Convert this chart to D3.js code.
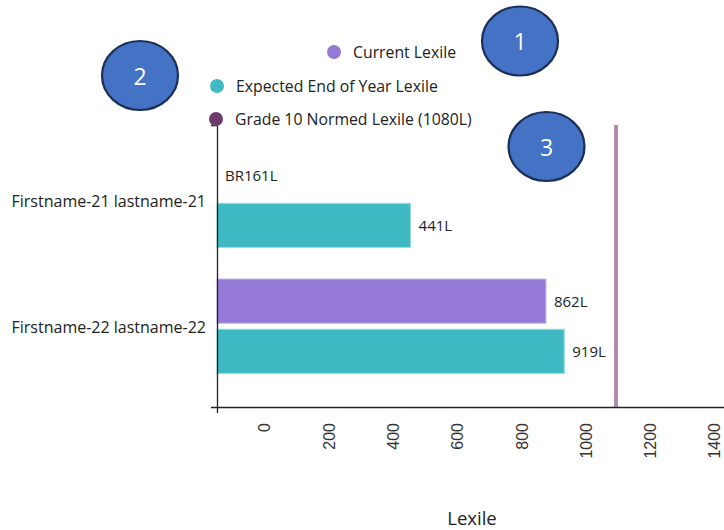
<!DOCTYPE html>
<html>
<head>
<meta charset="utf-8">
<script src="https://cdn.jsdelivr.net/npm/d3@7"></script>
<style>
  html, body { margin: 0; padding: 0; background: #fff; overflow: hidden; }
  svg { display: block; }
</style>
</head>
<body>
<svg id="chart" width="724" height="530"></svg>
<script>
// ---------- data ----------
const students = ["Firstname-21 lastname-21", "Firstname-22 lastname-22"];
const currentLexile = [-161, 862];
const expectedLexile = [441, 919];
const normedLexile = 1080;
const xTicks = [0, 200, 400, 600, 800, 1000, 1200, 1400];
const xDomain = [-161, 1425];
const seriesNames = ["Current Lexile", "Expected End of Year Lexile", "Grade 10 Normed Lexile (1080L)"];
const annotationLabels = ["1", "2", "3"];

// ---------- style / layout ----------
const colors = { current: "#9479d6", expected: "#3fbac3", normedLine: "#b08dae", normedDot: "#6e3a6c" };
const strokes = { current: "#c7b6ee", expected: "#9fdde1" };
const textFont = "'Open Sans', Lato, sans-serif";
const plot = { left: 217, right: 727, top: 125, bottom: 407 };

const svg = d3.select("#chart");

const x = d3.scaleLinear().domain(xDomain).range([plot.left, plot.right]);
const y = d3.scaleBand().domain(students).range([plot.top, plot.bottom])
  .paddingInner(0.25).paddingOuter(0.244).align(0.455);
const sub = d3.scaleBand().domain(["current", "expected"]).range([0, y.bandwidth()]).paddingInner(0.12);

const fmt = v => v < 0 ? "BR" + Math.abs(v) + "L" : v + "L";

// rows
const rows = students.map((s, i) => ({ name: s, values: [
  { key: "current", value: currentLexile[i] },
  { key: "expected", value: expectedLexile[i] }
]}));

const g = svg.append("g");
const groups = g.selectAll("g.row").data(rows).join("g")
  .attr("transform", d => `translate(0,${y(d.name)})`);

groups.selectAll("rect").data(d => d.values).join("rect")
  .attr("x", x(xDomain[0]))
  .attr("y", d => sub(d.key))
  .attr("height", sub.bandwidth())
  .attr("width", d => Math.max(0, x(d.value) - x(xDomain[0])))
  .attr("fill", d => colors[d.key])
  .attr("stroke", d => x(d.value) - x(xDomain[0]) > 0 ? strokes[d.key] : "none")
  .attr("stroke-width", 1);

groups.selectAll("text.val").data(d => d.values).join("text")
  .attr("class", "val")
  .attr("x", d => x(d.value) + 8)
  .attr("y", d => sub(d.key) + sub.bandwidth() / 2 + 2)
  .attr("dominant-baseline", "middle")
  .attr("font-family", textFont)
  .attr("font-size", 15)
  .attr("fill", "#222")
  .text(d => fmt(d.value));

// normed line
svg.append("line")
  .attr("x1", x(normedLexile)).attr("x2", x(normedLexile))
  .attr("y1", plot.top).attr("y2", plot.bottom)
  .attr("stroke", colors.normedLine).attr("stroke-width", 4);

// x axis
const xAxis = svg.append("g")
  .attr("transform", `translate(0,${plot.bottom})`)
  .call(d3.axisBottom(x).tickValues(xTicks).tickFormat(d3.format("d")).tickSizeInner(0).tickSizeOuter(6));
xAxis.select(".domain").attr("stroke", "#222").attr("stroke-width", 1.3);
xAxis.selectAll(".tick line").remove();
xAxis.selectAll(".tick text")
  .attr("transform", "rotate(-90)")
  .attr("x", -16).attr("y", 1).attr("dy", 0)
  .attr("text-anchor", "end")
  .attr("font-family", "'Liberation Sans', Arial, sans-serif")
  .attr("font-size", 16)
  .attr("fill", "#333");

// y axis
const yAxis = svg.append("g")
  .attr("transform", `translate(${plot.left},0)`)
  .call(d3.axisLeft(y).tickSizeInner(0).tickSizeOuter(6).tickPadding(11));
yAxis.select(".domain").attr("stroke", "#222").attr("stroke-width", 1.3);
yAxis.selectAll(".tick line").remove();
yAxis.selectAll(".tick text")
  .attr("dy", "0.45em")
  .attr("font-family", textFont)
  .attr("font-size", 16)
  .attr("fill", "#222");

// axis title
svg.append("text")
  .attr("x", (plot.left + plot.right) / 2)
  .attr("y", 525)
  .attr("text-anchor", "middle")
  .attr("font-family", textFont)
  .attr("font-size", 18.5)
  .attr("fill", "#222")
  .text("Lexile");

// legend
const legendPos = [{ x: 334, y: 52 }, { x: 217, y: 86 }, { x: 216, y: 119 }];
const legendColors = [colors.current, colors.expected, colors.normedDot];
const leg = svg.selectAll("g.leg").data(seriesNames).join("g")
  .attr("class", "leg")
  .attr("transform", (d, i) => `translate(${legendPos[i].x},${legendPos[i].y})`);
leg.append("circle").attr("r", 7).attr("fill", (d, i) => legendColors[i]);
leg.append("text")
  .attr("x", 19)
  .attr("y", 2)
  .attr("dominant-baseline", "middle")
  .attr("font-family", textFont)
  .attr("font-size", 15.8)
  .attr("fill", "#222")
  .text(d => d);

// numbered annotation ellipses
const annPos = [{ cx: 520, cy: 41 }, { cx: 140, cy: 75.5 }, { cx: 546.5, cy: 146.5 }];
const ann = svg.selectAll("g.ann").data(annotationLabels).join("g")
  .attr("class", "ann")
  .attr("transform", (d, i) => `translate(${annPos[i].cx},${annPos[i].cy})`);
ann.append("ellipse").attr("rx", 38).attr("ry", 34.5)
  .attr("fill", "#4472c4").attr("stroke", "#1b2f57").attr("stroke-width", 2.2);
ann.append("text")
  .attr("text-anchor", "middle")
  .attr("dominant-baseline", "central")
  .attr("font-family", "'Open Sans', Lato, sans-serif")
  .attr("font-size", 23)
  .attr("fill", "#fff")
  .text(d => d);
</script>
</body>
</html>
